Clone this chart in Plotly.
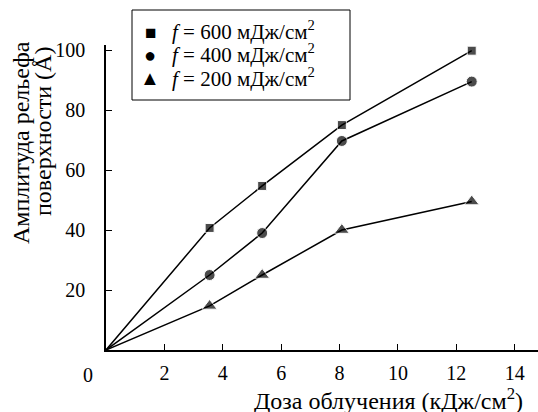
import plotly.graph_objects as go

dose = [0, 3.55, 5.35, 8.08, 12.53]
amp_600 = [0, 40.7, 54.7, 75.0, 99.8]
amp_400 = [0, 25.0, 39.0, 69.7, 89.5]
amp_200 = [0, 14.7, 25.0, 40.0, 49.5]
names = ["<i>f</i> = 600 мДж/см<sup>2</sup>", "<i>f</i> = 400 мДж/см<sup>2</sup>", "<i>f</i> = 200 мДж/см<sup>2</sup>"]
symbols = ["square", "circle", "triangle-up"]
key_glyphs = ["■", "●", "▲"]
sizes = [9, 11, 13]
x_ticks = [2, 4, 6, 8, 10, 12, 14]
y_ticks = [20, 40, 60, 80, 100]

FONT = "Liberation Serif"
FS = 20   # tick labels
FL = 21   # legend
FT = 24   # axis titles
W, H = 538, 412
L, R, T, B = 106, 0, 45, 62
pw, ph = W - L - R, H - T - B

fig = go.Figure()
for ys, nm, sym, sz in zip([amp_600, amp_400, amp_200], names, symbols, sizes):
    fig.add_trace(go.Scatter(
        x=dose, y=ys, name=nm, mode="lines+markers", showlegend=False,
        line=dict(color="black", width=1.5),
        marker=dict(symbol=sym, size=[0] + [sz] * (len(ys) - 1), color="black"),
    ))

def px_x(p):
    return (p - L) / pw

def px_y(p):
    return (H - B - p) / ph

fig.add_shape(type="rect", xref="paper", yref="paper",
              x0=px_x(132), x1=px_x(350), y0=px_y(100), y1=px_y(10),
              line=dict(color="black", width=1), fillcolor="white", layer="above")

fig.update_layout(
    width=W, height=H,
    margin=dict(l=L, r=R, t=T, b=B),
    plot_bgcolor="white", paper_bgcolor="white",
    font=dict(family=FONT, size=FS, color="black"),
    showlegend=False,
    xaxis=dict(range=[0, 14.8], tickvals=x_ticks, ticks="inside", ticklen=6,
               tickwidth=1.2, tickcolor="black", showline=True, linecolor="black",
               linewidth=1.5, showgrid=False, zeroline=False,
               ticklabelstandoff=4, tickfont=dict(family=FONT, size=FS, color="black")),
    yaxis=dict(range=[0, 101.7], tickvals=y_ticks, ticks="inside", ticklen=6,
               tickwidth=1.2, tickcolor="black", showline=True, linecolor="black",
               linewidth=1.5, showgrid=False, zeroline=False,
               ticklabelstandoff=15, tickfont=dict(family=FONT, size=FS, color="black")),
)

def ann(x, y, text, size, angle=0, xanchor="center"):
    fig.add_annotation(xref="paper", yref="paper", x=px_x(x), y=px_y(y),
                       xanchor=xanchor, yanchor="middle", text=text,
                       showarrow=False, textangle=angle, borderpad=0,
                       font=dict(family=FONT, size=size, color="black"))

ann(88, 375, "0", FS)
ann(388, 399, "Доза облучения (кДж/см<sup>2</sup>)", FT)
ann(21, 143, "Амплитуда рельефа", FT, -90)
ann(43, 131, "поверхности (Å)", FT, -90)

# legend (keys + labels) inside the framed box
key_sizes = [19, 20, 20]
for i, (g, nm, ks) in enumerate(zip(key_glyphs, names, key_sizes)):
    row_y = 32 + i * 23
    ann(150, row_y, g, ks)
    ann(171, row_y - 1, nm, FL, xanchor="left")

fig.write_html("out.html")
